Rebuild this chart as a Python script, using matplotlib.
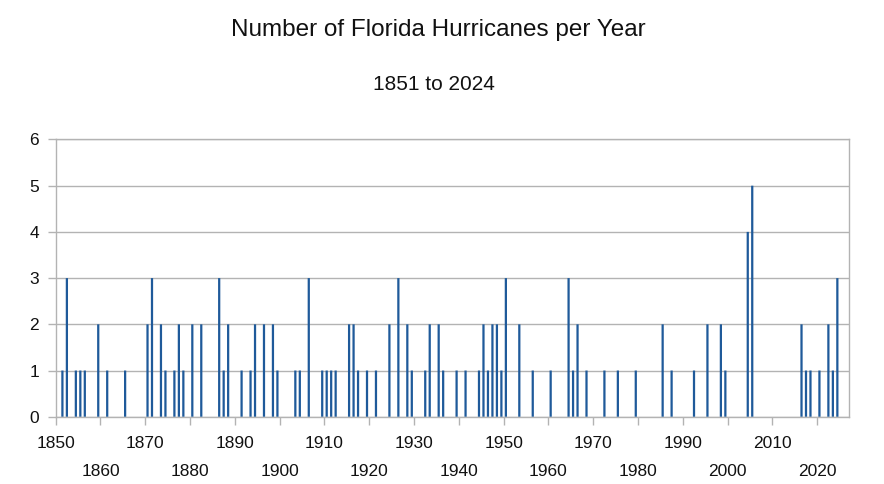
import matplotlib
matplotlib.use("Agg")
import matplotlib.pyplot as plt
import numpy as np

plt.rcParams['font.family'] = ['Liberation Sans', 'DejaVu Sans']

years = [1851, 1852, 1854, 1855, 1856, 1859, 1861, 1865, 1870, 1871,
         1873, 1874, 1876, 1877, 1878, 1880, 1882, 1886, 1887, 1888,
         1891, 1893, 1894, 1896, 1898, 1899, 1903, 1904, 1906, 1909,
         1910, 1911, 1912, 1915, 1916, 1917, 1919, 1921, 1924, 1926,
         1928, 1929, 1932, 1933, 1935, 1936, 1939, 1941, 1944, 1945,
         1946, 1947, 1948, 1949, 1950, 1953, 1956, 1960, 1964, 1965,
         1966, 1968, 1972, 1975, 1979, 1985, 1987, 1992, 1995, 1998,
         1999, 2004, 2005, 2016, 2017, 2018, 2020, 2022, 2023, 2024]
counts = [1, 3, 1, 1, 1, 2, 1, 1, 2, 3,
          2, 1, 1, 2, 1, 2, 2, 3, 1, 2,
          1, 1, 2, 2, 2, 1, 1, 1, 3, 1,
          1, 1, 1, 2, 2, 1, 1, 1, 2, 3,
          2, 1, 1, 2, 2, 1, 1, 1, 1, 2,
          1, 2, 2, 1, 3, 2, 1, 1, 3, 1,
          2, 1, 1, 1, 1, 2, 1, 1, 2, 2,
          1, 4, 5, 2, 1, 1, 1, 2, 1, 3]

major_ticks = [1850, 1870, 1890, 1910, 1930, 1950, 1970, 1990, 2010]
minor_ticks = [1860, 1880, 1900, 1920, 1940, 1960, 1980, 2000, 2020]
y_ticks = [0, 1, 2, 3, 4, 5, 6]

title = "Number of Florida Hurricanes per Year"
subtitle = "1851 to 2024"

grey = '#b3b3b3'
bar_color = '#1f5a9a'

fig = plt.figure(figsize=(8.84, 4.84), dpi=100)
ax = fig.add_axes([0.063, 0.139, 0.8974, 0.5728])

x = np.array(years) + 0.5
ax.bar(x, counts, width=0.5, color=bar_color, zorder=3, linewidth=0,
       snap=False)

ax.set_xlim(1850, 2027.1)
ax.set_ylim(0, 6)
ax.set_yticks(y_ticks)
ax.set_yticklabels([str(v) for v in y_ticks])
ax.yaxis.grid(True, color=grey, linewidth=1.0, zorder=0)
ax.set_axisbelow(True)

ax.set_xticks(major_ticks)
ax.set_xticklabels([str(v) for v in major_ticks])
ax.set_xticks(minor_ticks, minor=True)
ax.set_xticklabels([str(v) for v in minor_ticks], minor=True)

for s in ax.spines.values():
    s.set_color(grey)
    s.set_linewidth(1.0)

ax.tick_params(axis='x', which='both', length=6, width=1.0, color=grey,
               labelsize=12.5, labelcolor='#111111')
ax.tick_params(axis='x', which='major', pad=8)
ax.tick_params(axis='x', which='minor', pad=28)
ax.tick_params(axis='y', length=6, width=1.0, color=grey, labelsize=12.5,
               labelcolor='#111111', pad=6)

fig.text(438 / 884, 1 - 30 / 484, title, ha='center', va='center',
         fontsize=17.5, color='#111111')
fig.text(434 / 884, 1 - 84 / 484, subtitle, ha='center', va='center',
         fontsize=15, color='#111111')

fig.savefig("out.png", dpi=100, facecolor='white')
